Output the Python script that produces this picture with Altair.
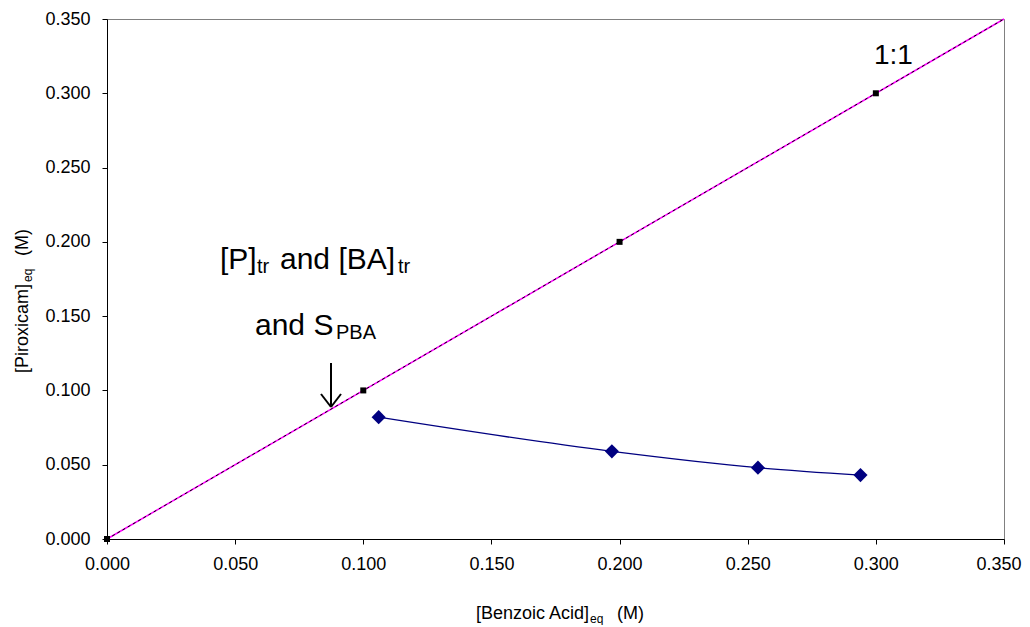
import altair as alt
import pandas as pd

# 1:1 reference line and its markers
ref_line_x = [0.0, 0.35]
ref_line_y = [0.0, 0.35]
ref_pts_x = [0.0, 0.1, 0.2, 0.3]
ref_pts_y = [0.0, 0.1, 0.2, 0.3]

# measured series
ba_eq = [0.106, 0.197, 0.254, 0.294]
p_eq = [0.082, 0.059, 0.048, 0.043]

tick_vals = [0.0, 0.05, 0.10, 0.15, 0.20, 0.25, 0.30, 0.35]

W, H = 897, 520
FONT = "Liberation Sans"

xs = alt.Scale(domain=[0, 0.35], nice=False, zero=True)
ys = alt.Scale(domain=[0, 0.35], nice=False, zero=True)

xaxis = alt.Axis(values=tick_vals, format=".3f", title=None, grid=False,
                 labelFontSize=18, labelFont=FONT, labelColor="black",
                 domainColor="black", tickColor="black", tickSize=5,
                 labelPadding=11, labelFlush=False,
                 labelAlign={"condition": {"test": "datum.value >= 0.349", "value": "right"}, "value": "center"},
                 labelOffset={"condition": {"test": "datum.value >= 0.349", "value": 17}, "value": 0})
yaxis = alt.Axis(values=tick_vals, format=".3f", title=None, grid=False,
                 labelFontSize=18, labelFont=FONT, labelColor="black",
                 domainColor="black", tickColor="black", tickSize=5,
                 labelPadding=12, labelFlush=False)

ref_df = pd.DataFrame({"x": ref_line_x, "y": ref_line_y})
pts_df = pd.DataFrame({"x": ref_pts_x, "y": ref_pts_y})
ser_df = pd.DataFrame({"x": ba_eq, "y": p_eq})

base_x = alt.X("x:Q", scale=xs, axis=xaxis)
base_y = alt.Y("y:Q", scale=ys, axis=yaxis)

ref_magenta = alt.Chart(ref_df).mark_line(color="#FF00FF", strokeWidth=1.5).encode(x=base_x, y=base_y)
ref_dash = alt.Chart(ref_df).mark_line(color="#000000", strokeWidth=1, strokeDash=[3, 3]).encode(
    x=alt.X("x:Q", scale=xs), y=alt.Y("y:Q", scale=ys))
ref_pts = alt.Chart(pts_df).mark_point(shape="square", filled=True, color="black", size=36, opacity=1).encode(
    x=alt.X("x:Q", scale=xs), y=alt.Y("y:Q", scale=ys))

ser_line = alt.Chart(ser_df).mark_line(color="#000080", strokeWidth=1.3, interpolate="monotone").encode(
    x=alt.X("x:Q", scale=xs), y=alt.Y("y:Q", scale=ys))
ser_pts = alt.Chart(ser_df).mark_point(shape="diamond", filled=True, color="#000080", size=200, opacity=1).encode(
    x=alt.X("x:Q", scale=xs), y=alt.Y("y:Q", scale=ys))


def txt(s, x, y, size, angle=0):
    return alt.Chart(pd.DataFrame({"t": [s]})).mark_text(
        text=s, font=FONT, fontSize=size, align="left", baseline="alphabetic",
        angle=angle, color="black").encode(x=alt.value(x), y=alt.value(y))


texts = [
    txt("[P]", 113, 250, 30),
    txt("tr", 150, 254, 20),
    txt("and [BA]", 173, 250, 30),
    txt("tr", 291, 254, 20),
    txt("and S", 148, 316, 30),
    txt("PBA", 229, 320, 20),
    txt("1:1", 767, 45, 28),
    # x axis title
    txt("[Benzoic Acid]", 369, 600, 18),
    txt("eq", 483, 604, 12),
    txt("(M)", 510, 600, 18),
    # y axis title (rotated)
    txt("[Piroxicam]", -79, 354, 18, angle=270),
    txt("eq", -75, 263, 12, angle=270),
    txt("(M)", -79, 237, 18, angle=270),
]

arrow_shaft = alt.Chart(pd.DataFrame({"a": [0]})).mark_rule(color="black", strokeWidth=2).encode(
    x=alt.value(224), y=alt.value(344), y2=alt.value(388))
arrow_l = alt.Chart(pd.DataFrame({"a": [0]})).mark_rule(color="black", strokeWidth=2).encode(
    x=alt.value(214), x2=alt.value(224), y=alt.value(375), y2=alt.value(388))
arrow_r = alt.Chart(pd.DataFrame({"a": [0]})).mark_rule(color="black", strokeWidth=2).encode(
    x=alt.value(234), x2=alt.value(224), y=alt.value(375), y2=alt.value(388))

chart = alt.layer(ref_magenta, ref_dash, ref_pts, ser_line, ser_pts,
                  arrow_shaft, arrow_l, arrow_r, *texts).properties(
    width=W, height=H,
    autosize=alt.AutoSizeParams(type="none"),
    padding={"left": 99, "top": 11, "right": 18, "bottom": 86},
    background="white",
).configure_view(stroke="#808080", strokeWidth=1)

chart.save("out.html", embed_options={"renderer": "svg", "actions": False})
